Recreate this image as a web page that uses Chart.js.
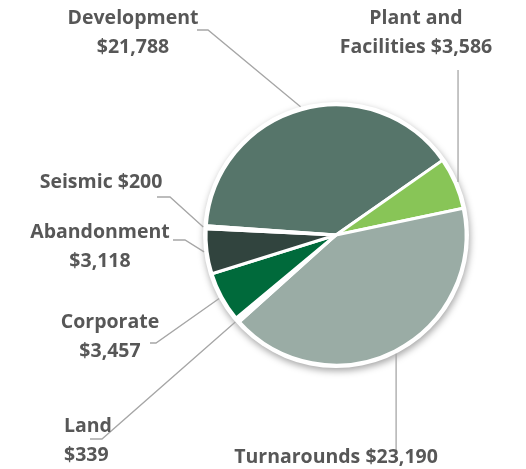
<!DOCTYPE html>
<html>
<head>
<meta charset="utf-8">
<script src="https://cdn.jsdelivr.net/npm/chart.js@4/dist/chart.umd.min.js"></script>
<style>
  html, body { margin: 0; padding: 0; background: #ffffff; }
  #wrap { width: 526px; height: 469px; position: relative; }
</style>
</head>
<body>
<div id="wrap"><canvas id="myChart" width="526" height="469"></canvas></div>
<script>
// categories and values (capital spend, $)
var categories = ['Development', 'Plant and Facilities', 'Turnarounds', 'Land', 'Corporate', 'Abandonment', 'Seismic'];
var spend = [21788, 3586, 23190, 339, 3457, 3118, 200];
var sliceColors = ['#56756a', '#88c557', '#9aaca5', '#ffffff', '#006a3b', '#31443e', '#ffffff'];

// how each label is broken into lines, plus where it sits
var labelLines = [
    ['Development', '$21,788'],
    ['Plant and', 'Facilities $3,586'],
    ['Turnarounds $23,190'],
    ['Land', '$339'],
    ['Corporate', '$3,457'],
    ['Abandonment', '$3,118'],
    ['Seismic $200']
];
var labelSpots = [
    { x: 133, y: 18, align: 'center' },
    { x: 416, y: 18, align: 'center' },
    { x: 336, y: 457, align: 'center' },
    { x: 64, y: 426, align: 'left' },
    { x: 110, y: 322, align: 'center' },
    { x: 100, y: 232, align: 'center' },
    { x: 101, y: 182, align: 'center' }
];
// leader line knees
var leaderKnees = [
    [[197, 30], [208, 30]],
    'up70',
    'down450',
    [[90, 439], [102, 439]],
    [[150, 343], [156, 343]],
    [[173, 240], [185, 240]],
    [[157, 197], [170, 197]]
];

var shadowPlugin = {
    id: 'pieShadow',
    beforeDatasetsDraw: function(chart) {
        var arc = chart.getDatasetMeta(0).data[0];
        var ctx = chart.ctx;
        ctx.save();
        ctx.shadowColor = 'rgba(0,0,0,0.35)';
        ctx.shadowBlur = 7;
        ctx.shadowOffsetX = 1;
        ctx.shadowOffsetY = 3;
        ctx.fillStyle = '#ffffff';
        ctx.beginPath();
        ctx.arc(arc.x, arc.y, arc.outerRadius + 3, 0, Math.PI * 2);
        ctx.fill();
        ctx.restore();
    }
};

var labelPlugin = {
    id: 'sliceLabels',
    afterDatasetsDraw: function(chart) {
        var ctx = chart.ctx;
        var meta = chart.getDatasetMeta(0);
        ctx.save();
        // leader lines
        ctx.strokeStyle = '#a6a6a6';
        ctx.lineWidth = 1.3;
        meta.data.forEach(function(arc, i) {
            var mid = (arc.startAngle + arc.endAngle) / 2;
            var r = arc.outerRadius + 3;
            var ex = arc.x + Math.cos(mid) * r;
            var ey = arc.y + Math.sin(mid) * r;
            var k = leaderKnees[i];
            ctx.beginPath();
            if (k === 'up70') {
                ctx.moveTo(ex, 70);
                ctx.lineTo(ex, ey);
            } else if (k === 'down450') {
                ctx.moveTo(ex, ey);
                ctx.lineTo(ex, 450);
            } else {
                ctx.moveTo(k[0][0], k[0][1]);
                ctx.lineTo(k[1][0], k[1][1]);
                ctx.lineTo(ex, ey);
            }
            ctx.stroke();
        });
        // texts
        ctx.fillStyle = '#575757';
        ctx.font = 'bold 19.5px "Open Sans", Lato, sans-serif';
        ctx.textBaseline = 'middle';
        labelLines.forEach(function(lines, i) {
            var s = labelSpots[i];
            ctx.textAlign = s.align;
            lines.forEach(function(t, j) {
                ctx.fillText(t, s.x, s.y + j * 29);
            });
        });
        ctx.restore();
    }
};

var ctx = document.getElementById('myChart').getContext('2d');
var chart = new Chart(ctx, {
    type: 'pie',
    data: {
        labels: categories,
        datasets: [{
            data: spend,
            backgroundColor: sliceColors,
            borderColor: '#ffffff',
            borderWidth: 3
        }]
    },
    options: {
        responsive: false,
        animation: false,
        rotation: -85.9,
        radius: 130,
        layout: { padding: { left: 200, right: 54, top: 100, bottom: 99 } },
        plugins: {
            legend: { display: false },
            tooltip: { enabled: false }
        }
    },
    plugins: [shadowPlugin, labelPlugin]
});
</script>
</body>
</html>
